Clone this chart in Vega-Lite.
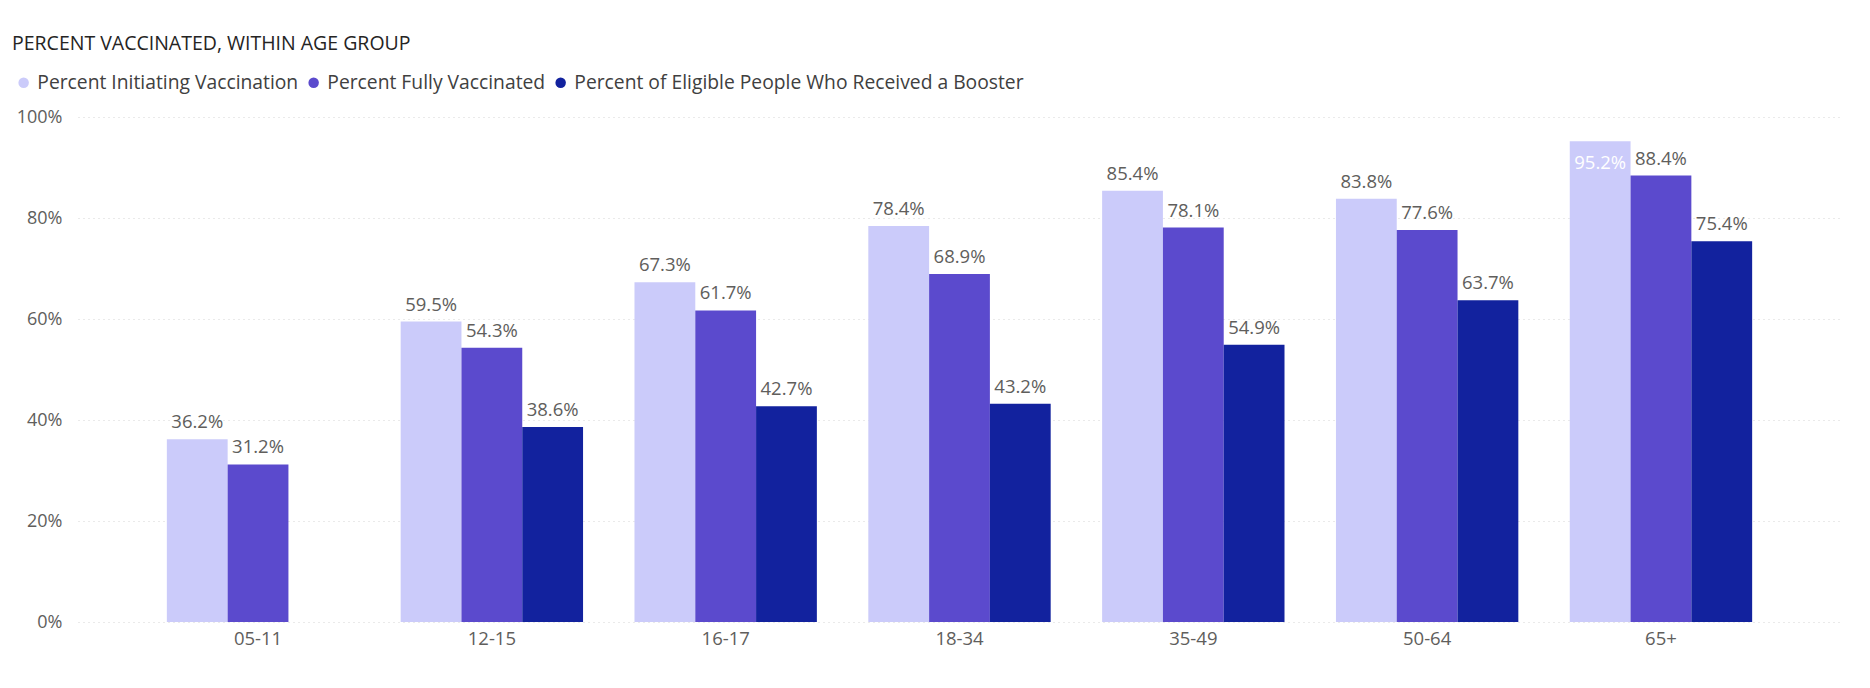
{
  "$schema": "https://vega.github.io/schema/vega-lite/v6.json",
  "autosize": {"type": "none"},
  "width": 1763,
  "height": 505,
  "padding": {"left": 78, "top": 117, "right": 29, "bottom": 66},
  "background": "white",
  "title": {
    "text": "PERCENT VACCINATED, WITHIN AGE GROUP",
    "anchor": "start",
    "frame": "group",
    "dx": -66,
    "dy": 37,
    "fontSize": 19.5,
    "fontWeight": "normal",
    "font": "Open Sans",
    "color": "#252423",
    "offset": 56
  },
  "config": {
    "font": "Open Sans",
    "view": {"stroke": null}
  },
  "data": {
    "values": [
      {"age": "05-11", "measure": "Percent Initiating Vaccination", "value": 0.362},
      {"age": "05-11", "measure": "Percent Fully Vaccinated", "value": 0.312},
      {"age": "12-15", "measure": "Percent Initiating Vaccination", "value": 0.595},
      {"age": "12-15", "measure": "Percent Fully Vaccinated", "value": 0.543},
      {"age": "12-15", "measure": "Percent of Eligible People Who Received a Booster", "value": 0.386},
      {"age": "16-17", "measure": "Percent Initiating Vaccination", "value": 0.673},
      {"age": "16-17", "measure": "Percent Fully Vaccinated", "value": 0.617},
      {"age": "16-17", "measure": "Percent of Eligible People Who Received a Booster", "value": 0.427},
      {"age": "18-34", "measure": "Percent Initiating Vaccination", "value": 0.784},
      {"age": "18-34", "measure": "Percent Fully Vaccinated", "value": 0.689},
      {"age": "18-34", "measure": "Percent of Eligible People Who Received a Booster", "value": 0.432},
      {"age": "35-49", "measure": "Percent Initiating Vaccination", "value": 0.854},
      {"age": "35-49", "measure": "Percent Fully Vaccinated", "value": 0.781},
      {"age": "35-49", "measure": "Percent of Eligible People Who Received a Booster", "value": 0.549},
      {"age": "50-64", "measure": "Percent Initiating Vaccination", "value": 0.838},
      {"age": "50-64", "measure": "Percent Fully Vaccinated", "value": 0.776},
      {"age": "50-64", "measure": "Percent of Eligible People Who Received a Booster", "value": 0.637},
      {"age": "65+", "measure": "Percent Initiating Vaccination", "value": 0.952},
      {"age": "65+", "measure": "Percent Fully Vaccinated", "value": 0.884},
      {"age": "65+", "measure": "Percent of Eligible People Who Received a Booster", "value": 0.754}
    ]
  },
  "encoding": {
    "x": {
      "field": "age",
      "type": "nominal",
      "sort": null,
      "scale": {"paddingInner": 0.22, "paddingOuter": 0.38},
      "axis": {
        "title": null,
        "labelAngle": 0,
        "domain": false,
        "ticks": false,
        "labelPadding": 7,
        "labelFontSize": 18.5,
        "labelColor": "#605E5C",
        "grid": false
      }
    },
    "xOffset": {
      "field": "measure",
      "type": "nominal",
      "sort": ["Percent Initiating Vaccination", "Percent Fully Vaccinated", "Percent of Eligible People Who Received a Booster"],
      "scale": {"paddingInner": 0, "paddingOuter": 0}
    },
    "y": {
      "field": "value",
      "type": "quantitative",
      "scale": {"domain": [0, 1], "nice": false},
      "axis": {
        "title": null,
        "values": [0, 0.2, 0.4, 0.6, 0.8, 1],
        "format": ".0%",
        "domain": false,
        "ticks": false,
        "labelPadding": 16,
        "labelFontSize": 18,
        "labelColor": "#605E5C",
        "gridColor": "#D6D6D6",
        "gridDash": [1, 4],
        "gridWidth": 1.2
      }
    }
  },
  "layer": [
    {
      "mark": {"type": "bar"},
      "encoding": {
        "color": {
          "field": "measure",
          "type": "nominal",
          "sort": ["Percent Initiating Vaccination", "Percent Fully Vaccinated", "Percent of Eligible People Who Received a Booster"],
          "scale": {
            "domain": ["Percent Initiating Vaccination", "Percent Fully Vaccinated", "Percent of Eligible People Who Received a Booster"],
            "range": ["#CBCBFA", "#5B4ACD", "#12229E"]
          },
          "legend": {
            "title": null,
            "orient": "none",
            "direction": "horizontal",
            "legendX": -64,
            "legendY": -44,
            "symbolType": "circle",
            "symbolSize": 110,
            "labelFontSize": 19.3,
            "labelColor": "#404040",
            "labelOffset": 4,
            "columnPadding": 5,
            "labelLimit": 700
          }
        }
      }
    },
    {
      "transform": [{"filter": "datum.value < 0.93"}],
      "mark": {"type": "text", "baseline": "alphabetic", "dy": -11, "fontSize": 18.5, "color": "#605E5C"},
      "encoding": {
        "text": {"field": "value", "type": "quantitative", "format": ".1%"}
      }
    },
    {
      "transform": [{"filter": "datum.value >= 0.93"}],
      "mark": {"type": "text", "baseline": "alphabetic", "dy": 28, "fontSize": 18.5, "color": "#FFFFFF"},
      "encoding": {
        "text": {"field": "value", "type": "quantitative", "format": ".1%"}
      }
    }
  ]
}
